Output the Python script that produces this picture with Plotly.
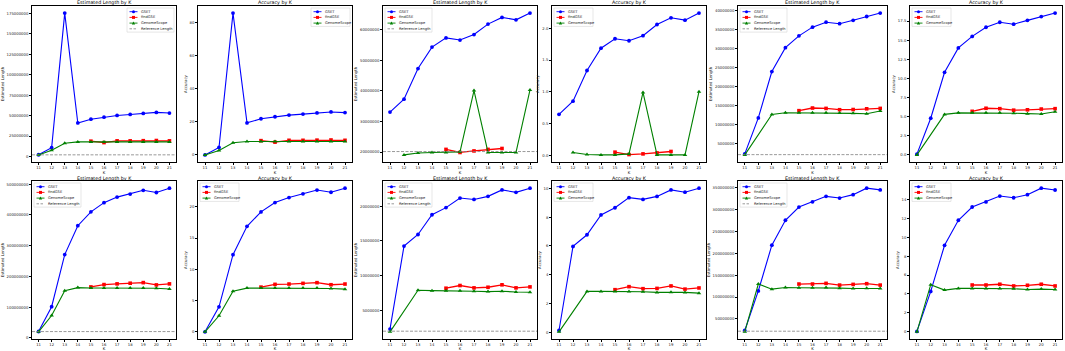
import plotly.graph_objects as go

# ---------------- data ----------------
K = list(range(11, 22))
K_FINDGSE = list(range(15, 22))
K_FINDGSE_SHORT = list(range(15, 20))
K_GS_FROM12 = list(range(12, 22))
K_GS_SKIP12 = [11] + list(range(13, 22))
X_TICKS = list(range(11, 22))

# dataset A (panels 1-2)
a_ref = 2.0e6
a_len_gset = [2.1e6, 10.8e6, 175.4e6, 41.0e6, 45.6e6, 48.1e6, 50.2e6, 51.4e6, 52.7e6, 53.9e6, 53.1e6]
a_len_findgse = [18.7e6, 17.0e6, 19.1e6, 19.1e6, 19.3e6, 19.5e6, 19.1e6]
a_len_gs = [1.9e6, 7.5e6, 16.2e6, 17.8e6, 17.8e6, 17.8e6, 17.8e6, 17.8e6, 17.8e6, 17.8e6, 17.8e6]
a_acc_gset = [0.0, 4.5, 85.5, 19.3, 21.8, 23.0, 24.0, 24.6, 25.3, 25.9, 25.5]
a_acc_findgse = [8.6, 7.7, 8.8, 8.8, 8.9, 9.0, 8.8]
a_acc_gs = [0.0, 2.7, 7.3, 8.1, 8.1, 8.1, 8.1, 8.1, 8.1, 8.1, 8.1]

# dataset B (panels 3-4)
b_ref = 20.2e6
b_len_gset = [33.1e6, 37.3e6, 47.3e6, 54.3e6, 57.3e6, 56.6e6, 58.4e6, 61.8e6, 64.0e6, 63.2e6, 65.4e6]
b_len_findgse = [20.9e6, 19.9e6, 20.4e6, 20.9e6, 21.2e6]
b_len_gs = [19.1e6, 19.7e6, 19.9e6, 19.9e6, 20.1e6, 40.1e6, 19.9e6, 19.9e6, 19.9e6, 40.3e6]
b_acc_gset = [0.644, 0.851, 1.335, 1.686, 1.835, 1.803, 1.883, 2.059, 2.165, 2.128, 2.239]
b_acc_findgse = [0.048, 0.011, 0.021, 0.037, 0.059]
b_acc_gs = [0.043, 0.011, 0.005, 0.005, 0.021, 0.99, 0.005, 0.005, 0.005, 1.0]

# dataset C (panels 5-6)
c_ref = 2.02e6
c_len_gset = [2.22e6, 11.7e6, 23.9e6, 30.2e6, 33.3e6, 35.6e6, 36.9e6, 36.5e6, 37.4e6, 38.4e6, 39.3e6]
c_len_findgse = [13.6e6, 14.3e6, 14.2e6, 13.85e6, 13.9e6, 14.1e6, 14.2e6]
c_len_gs = [1.95e6, 12.6e6, 13.05e6, 13.05e6, 13.05e6, 13.05e6, 12.96e6, 12.9e6, 12.8e6, 13.5e6]
c_acc_gset = [0.1, 4.8, 10.8, 14.0, 15.5, 16.7, 17.35, 17.1, 17.6, 18.1, 18.55]
c_acc_findgse = [5.7, 6.1, 6.05, 5.85, 5.9, 6.0, 6.05]
c_acc_gs = [0.0, 5.3, 5.5, 5.5, 5.5, 5.5, 5.45, 5.4, 5.35, 5.65]

# dataset D (panels 7-8)
d_ref = 20.8e6
d_len_gset = [21e6, 101.7e6, 271e6, 365e6, 410e6, 440e6, 458e6, 468e6, 480e6, 473e6, 487e6]
d_len_findgse = [166e6, 173.6e6, 175.9e6, 178e6, 180e6, 172.5e6, 175.9e6]
d_len_gs = [20e6, 73e6, 153.7e6, 163.7e6, 162.6e6, 162.6e6, 162.6e6, 162.6e6, 162.6e6, 161.5e6, 159.3e6]
d_acc_gset = [0.0, 4.0, 12.35, 16.9, 19.2, 20.7, 21.5, 22.1, 22.7, 22.35, 23.0]
d_acc_findgse = [7.16, 7.6, 7.65, 7.76, 7.87, 7.54, 7.65]
d_acc_gs = [0.0, 2.57, 6.5, 7.0, 7.0, 7.0, 7.0, 7.0, 7.0, 6.94, 6.83]

# dataset E (panels 9-10)
e_ref = 2.0e6
e_len_gset = [2.30e6, 14.26e6, 15.93e6, 18.77e6, 19.8e6, 21.18e6, 20.98e6, 21.42e6, 22.35e6, 22.0e6, 22.6e6]
e_len_findgse = [8.19e6, 8.58e6, 8.24e6, 8.33e6, 8.68e6, 8.24e6, 8.38e6]
e_len_gs = [1.91e6, 7.89e6, 7.84e6, 7.84e6, 7.84e6, 7.75e6, 7.7e6, 7.75e6, 7.65e6, 7.6e6]
e_acc_gset = [0.12, 5.97, 6.78, 8.16, 8.66, 9.36, 9.24, 9.45, 9.9, 9.74, 10.02]
e_acc_findgse = [2.96, 3.17, 3.03, 3.05, 3.22, 3.0, 3.08]
e_acc_gs = [0.03, 2.84, 2.84, 2.84, 2.84, 2.82, 2.77, 2.79, 2.77, 2.72]

# dataset F (panels 11-12)
f_ref = 21.7e6
f_len_gset = [23.4e6, 114e6, 218.75e6, 275.8e6, 306e6, 318e6, 330.5e6, 326.6e6, 334.4e6, 349.2e6, 345.3e6]
f_len_findgse = [129.7e6, 129.7e6, 131.25e6, 127.3e6, 128.9e6, 130.5e6, 127.3e6]
f_len_gs = [20.3e6, 129.7e6, 118e6, 121.9e6, 121.1e6, 121.1e6, 121.9e6, 120.3e6, 119.5e6, 120.3e6, 119.5e6]
f_acc_gset = [0.04, 4.27, 9.15, 11.8, 13.2, 13.74, 14.36, 14.18, 14.5, 15.19, 15.0]
f_acc_findgse = [4.95, 4.95, 5.03, 4.85, 4.92, 5.03, 4.85]
f_acc_gs = [0.0, 4.99, 4.41, 4.59, 4.59, 4.59, 4.59, 4.56, 4.48, 4.52, 4.48]

# y tick values per panel
ticks_p1 = [0, 25e6, 50e6, 75e6, 100e6, 125e6, 150e6, 175e6]
ticks_p2 = [0, 20, 40, 60, 80]
ticks_p3 = [20e6, 30e6, 40e6, 50e6, 60e6]
ticks_p4 = [0.0, 0.5, 1.0, 1.5, 2.0]
ticks_p5 = [5e6, 10e6, 15e6, 20e6, 25e6, 30e6, 35e6, 40e6]
ticks_p6 = [0.0, 2.5, 5.0, 7.5, 10.0, 12.5, 15.0, 17.5]
ticks_p7 = [0, 100e6, 200e6, 300e6, 400e6, 500e6]
ticks_p8 = [0, 5, 10, 15, 20]
ticks_p9 = [5e6, 10e6, 15e6, 20e6]
ticks_p10 = [0, 2, 4, 6, 8, 10]
ticks_p11 = [50e6, 100e6, 150e6, 200e6, 250e6, 300e6, 350e6]
ticks_p12 = [0, 2, 4, 6, 8, 10, 12, 14]

# ---------------- panel definitions ----------------
panels = [
    dict(kind="len", gset=(K, a_len_gset), fg=(K_FINDGSE, a_len_findgse), gs=(K, a_len_gs), ref=a_ref, ticks=ticks_p1, fmt="d", leg="right"),
    dict(kind="acc", gset=(K, a_acc_gset), fg=(K_FINDGSE, a_acc_findgse), gs=(K, a_acc_gs), ref=None, ticks=ticks_p2, fmt="d", leg="right"),
    dict(kind="len", gset=(K, b_len_gset), fg=(K_FINDGSE_SHORT, b_len_findgse), gs=(K_GS_FROM12, b_len_gs), ref=b_ref, ticks=ticks_p3, fmt="d", leg="left"),
    dict(kind="acc", gset=(K, b_acc_gset), fg=(K_FINDGSE_SHORT, b_acc_findgse), gs=(K_GS_FROM12, b_acc_gs), ref=None, ticks=ticks_p4, fmt=".1f", leg="left"),
    dict(kind="len", gset=(K, c_len_gset), fg=(K_FINDGSE, c_len_findgse), gs=(K_GS_SKIP12, c_len_gs), ref=c_ref, ticks=ticks_p5, fmt="d", leg="left"),
    dict(kind="acc", gset=(K, c_acc_gset), fg=(K_FINDGSE, c_acc_findgse), gs=(K_GS_SKIP12, c_acc_gs), ref=None, ticks=ticks_p6, fmt=".1f", leg="left"),
    dict(kind="len", gset=(K, d_len_gset), fg=(K_FINDGSE, d_len_findgse), gs=(K, d_len_gs), ref=d_ref, ticks=ticks_p7, fmt="d", leg="left"),
    dict(kind="acc", gset=(K, d_acc_gset), fg=(K_FINDGSE, d_acc_findgse), gs=(K, d_acc_gs), ref=None, ticks=ticks_p8, fmt="d", leg="left"),
    dict(kind="len", gset=(K, e_len_gset), fg=(K_FINDGSE, e_len_findgse), gs=(K_GS_SKIP12, e_len_gs), ref=e_ref, ticks=ticks_p9, fmt="d", leg="left"),
    dict(kind="acc", gset=(K, e_acc_gset), fg=(K_FINDGSE, e_acc_findgse), gs=(K_GS_SKIP12, e_acc_gs), ref=None, ticks=ticks_p10, fmt="d", leg="left"),
    dict(kind="len", gset=(K, f_len_gset), fg=(K_FINDGSE, f_len_findgse), gs=(K, f_len_gs), ref=f_ref, ticks=ticks_p11, fmt="d", leg="left"),
    dict(kind="acc", gset=(K, f_acc_gset), fg=(K_FINDGSE, f_acc_findgse), gs=(K, f_acc_gs), ref=None, ticks=ticks_p12, fmt="d", leg="left"),
]

W, H = 1065, 351
COLS = [(32, 176), (198, 352), (383, 537), (552, 706), (738, 887), (910, 1062)]
ROWS = [(6, 162), (181, 339)]

FONT = "DejaVu Sans"
TICK_FS = 3.8
AXT_FS = 3.9
TITLE_FS = 4.8
LEG_FS = 3.6

BLUE, RED, GREEN, GRAY = "#0000ff", "#ff0000", "#008000", "#808080"

fig = go.Figure()
layout = dict(
    width=W, height=H,
    margin=dict(l=0, r=0, t=0, b=0),
    paper_bgcolor="white", plot_bgcolor="white",
    font=dict(family=FONT, size=TICK_FS, color="#222222"),
    showlegend=False,
    annotations=[], shapes=[],
)


def px(xp):
    return xp / W


def py(yp):
    return 1 - yp / H


def add_legend(entries, left, top, width):
    """Compact matplotlib-like legend built with shapes + annotations (pixel units)."""
    step = 5.7
    height = len(entries) * step + 1.3
    layout["shapes"].append(dict(type="rect", xref="paper", yref="paper",
                                 x0=px(left), x1=px(left + width), y0=py(top + height), y1=py(top),
                                 fillcolor="rgba(255,255,255,0.85)",
                                 line=dict(color="#cccccc", width=0.5), layer="above"))
    for j, (name, color, symbol, dash) in enumerate(entries):
        yc = top + 3.7 + step * j
        hx0, hx1 = left + 2.5, left + 10.5
        layout["shapes"].append(dict(type="line", xref="paper", yref="paper",
                                     x0=px(hx0), x1=px(hx1), y0=py(yc), y1=py(yc),
                                     line=dict(color=color, width=0.9 if dash == "solid" else 0.8,
                                               dash="solid" if dash == "solid" else "2.5px,1.5px"),
                                     layer="above"))
        mx = (hx0 + hx1) / 2
        r = 1.5
        if symbol == "circle":
            layout["shapes"].append(dict(type="circle", xref="paper", yref="paper",
                                         x0=px(mx - r), x1=px(mx + r), y0=py(yc + r), y1=py(yc - r),
                                         fillcolor=color, line=dict(width=0), layer="above"))
        elif symbol == "square":
            layout["shapes"].append(dict(type="rect", xref="paper", yref="paper",
                                         x0=px(mx - r), x1=px(mx + r), y0=py(yc + r), y1=py(yc - r),
                                         fillcolor=color, line=dict(width=0), layer="above"))
        elif symbol == "triangle":
            path = (f"M {px(mx - r - 0.2)},{py(yc + r)} L {px(mx + r + 0.2)},{py(yc + r)} "
                    f"L {px(mx)},{py(yc - r - 0.2)} Z")
            layout["shapes"].append(dict(type="path", xref="paper", yref="paper", path=path,
                                         fillcolor=color, line=dict(width=0), layer="above"))
        layout["annotations"].append(dict(text=name, xref="paper", yref="paper",
                                          x=px(left + 13), y=py(yc), xanchor="left", yanchor="middle",
                                          showarrow=False, borderpad=0,
                                          font=dict(family=FONT, size=LEG_FS, color="#222222")))


for i, p in enumerate(panels):
    n = i + 1
    r, c = divmod(i, 6)
    x0, x1 = COLS[c]
    yt, yb = ROWS[r]
    xd = [px(x0), px(x1)]
    yd = [py(yb), py(yt)]
    xa = "x" if n == 1 else f"x{n}"
    ya = "y" if n == 1 else f"y{n}"

    vals = list(p["gset"][1]) + list(p["fg"][1]) + list(p["gs"][1])
    if p["ref"] is not None:
        vals.append(p["ref"])
    lo, hi = min(vals), max(vals)
    pad = 0.05 * (hi - lo)

    axcommon = dict(showline=True, mirror=True, linecolor="black", linewidth=0.8,
                    ticks="outside", ticklen=2, tickwidth=0.6, tickcolor="black",
                    showgrid=False, zeroline=False,
                    tickfont=dict(family=FONT, size=TICK_FS, color="#222222"))
    layout["xaxis" if n == 1 else f"xaxis{n}"] = dict(
        domain=xd, anchor=ya, range=[10.5, 21.5], tickmode="array",
        tickvals=X_TICKS, ticktext=[str(v) for v in X_TICKS],
        title=dict(text="K", font=dict(family=FONT, size=AXT_FS, color="#222222"), standoff=1), **axcommon)
    layout["yaxis" if n == 1 else f"yaxis{n}"] = dict(
        domain=yd, anchor=xa, range=[lo - pad, hi + pad], tickmode="array",
        tickvals=p["ticks"], tickformat=p["fmt"],
        title=dict(text="Estimated Length" if p["kind"] == "len" else "Accuracy",
                   font=dict(family=FONT, size=AXT_FS, color="#222222"), standoff=2), **axcommon)

    title = "Estimated Length by K" if p["kind"] == "len" else "Accuracy by K"
    layout["annotations"].append(dict(
        text=title, xref="paper", yref="paper", x=(xd[0] + xd[1]) / 2, y=py(yt - 3),
        xanchor="center", yanchor="middle", showarrow=False, borderpad=0,
        font=dict(family=FONT, size=TITLE_FS, color="black")))

    fig.add_trace(go.Scatter(x=p["gset"][0], y=p["gset"][1], name="GSET", mode="lines+markers",
                             line=dict(color=BLUE, width=1.1), marker=dict(symbol="circle", size=3.8, color=BLUE),
                             xaxis=xa, yaxis=ya))
    fig.add_trace(go.Scatter(x=p["fg"][0], y=p["fg"][1], name="findGSE", mode="lines+markers",
                             line=dict(color=RED, width=1.3), marker=dict(symbol="square", size=3.6, color=RED),
                             xaxis=xa, yaxis=ya))
    fig.add_trace(go.Scatter(x=p["gs"][0], y=p["gs"][1], name="GenomeScope", mode="lines+markers",
                             line=dict(color=GREEN, width=1.1), marker=dict(symbol="triangle-up", size=4, color=GREEN),
                             xaxis=xa, yaxis=ya))
    entries = [("GSET", BLUE, "circle", "solid"),
               ("findGSE", RED, "square", "solid"),
               ("GenomeScope", GREEN, "triangle", "solid")]
    if p["ref"] is not None:
        layout["shapes"].append(dict(type="line", xref=f"{xa} domain", yref=ya, x0=0, x1=1,
                                     y0=p["ref"], y1=p["ref"], layer="above",
                                     line=dict(color=GRAY, width=0.8, dash="3px,1.5px")))
        entries.append(("Reference Length", GRAY, None, "dash"))

    lw = 47 if p["ref"] is not None else 39
    if p["leg"] == "right":
        lleft = x1 - 2 - lw
    else:
        lleft = x0 + 2
    add_legend(entries, lleft, yt + 2, lw)

fig.update_layout(**layout)
fig.write_html("out.html", config={"displayModeBar": False},
               post_script="document.body.style.margin='0';")
